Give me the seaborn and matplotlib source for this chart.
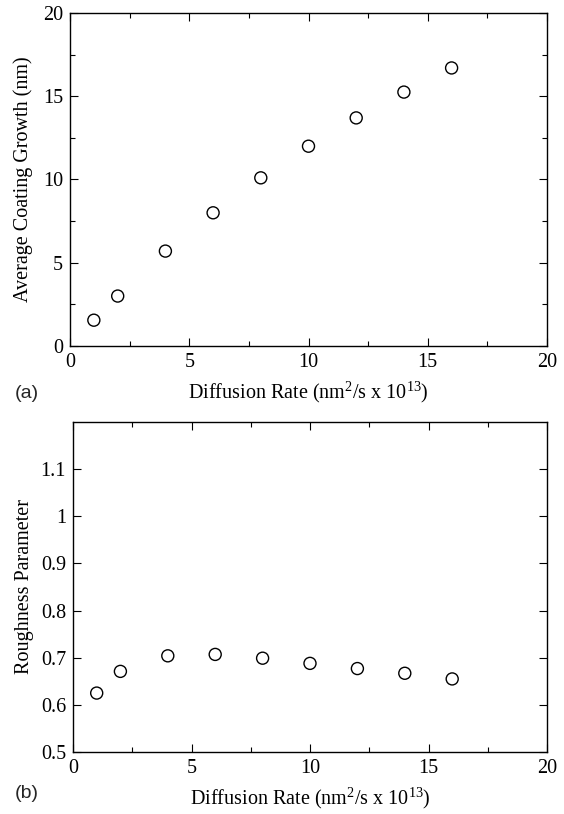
import numpy as np
import pandas as pd
import matplotlib
matplotlib.use("Agg")
import matplotlib.pyplot as plt
from matplotlib.ticker import MultipleLocator
import seaborn as sns

sns.set_theme(style="ticks")
plt.rcParams['font.family'] = ['Liberation Serif', 'DejaVu Serif']
plt.rcParams['mathtext.fontset'] = 'custom'
plt.rcParams['mathtext.rm'] = 'Liberation Serif'

diffusion_rate = [1, 2, 4, 6, 8, 10, 12, 14, 16]
coating_growth = [1.55, 3.0, 5.7, 8.0, 10.1, 12.0, 13.7, 15.25, 16.7]
roughness = [0.625, 0.671, 0.704, 0.707, 0.699, 0.688, 0.677, 0.667, 0.655]

xlabel = r"Diffusion Rate (nm$^{2}$/s x 10$^{13}$)"
ylabel_a = "Average Coating Growth (nm)"
ylabel_b = "Roughness Parameter"

df = pd.DataFrame({"x": diffusion_rate, "g": coating_growth, "r": roughness})

fig = plt.figure(figsize=(5.64, 8.14), dpi=100)
W, H = 564, 814
ax1 = fig.add_axes([70 / W, 1 - 346 / H, (547 - 70) / W, (346 - 13) / H])
ax2 = fig.add_axes([73 / W, 1 - 752 / H, (547 - 73) / W, (752 - 422) / H])

fs = 14.5
for ax, col, ylab, ypad in [(ax1, "g", ylabel_a, 7), (ax2, "r", ylabel_b, 5)]:
    sns.scatterplot(data=df, x="x", y=col, ax=ax, marker="o", s=75,
                    facecolor="none", edgecolor="black", linewidth=1.0)
    ax.set_xlim(0, 20)
    ax.xaxis.set_major_locator(MultipleLocator(5))
    ax.xaxis.set_minor_locator(MultipleLocator(2.5))
    ax.tick_params(which="both", direction="in", top=True, right=True,
                   labelsize=fs, colors="black", width=0.8)
    ax.tick_params(which="major", length=6)
    ax.tick_params(which="minor", length=3.8)
    ax.tick_params(axis="x", pad=5)
    ax.tick_params(axis="y", pad=5)
    for s in ax.spines.values():
        s.set_color("black")
        s.set_linewidth(1.0)
    ax.set_xlabel(xlabel, fontsize=fs, color="black", labelpad=5)
    ax.set_ylabel(ylab, fontsize=fs, color="black", labelpad=ypad)

ax1.set_ylim(0, 20)
ax1.yaxis.set_major_locator(MultipleLocator(5))
ax1.yaxis.set_minor_locator(MultipleLocator(2.5))

ax2.set_ylim(0.5, 1.2)
ax2.set_yticks([0.5, 0.6, 0.7, 0.8, 0.9, 1.0, 1.1])
ax2.set_yticklabels(["0.5", "0.6", "0.7", "0.8", "0.9", "1", "1.1"])

fig.text(15 / W, 1 - 393 / H, "(a)", fontsize=14, family="Liberation Sans", va="center", ha="left")
fig.text(15 / W, 1 - 794 / H, "(b)", fontsize=14, family="Liberation Sans", va="center", ha="left")

fig.savefig("out.png", dpi=100)
